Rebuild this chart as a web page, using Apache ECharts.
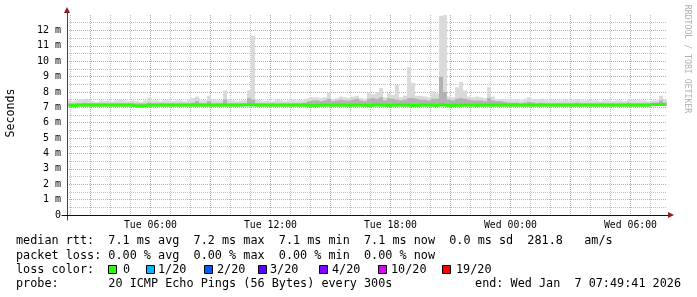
<!DOCTYPE html>
<html><head><meta charset="utf-8">
<script src="https://cdn.jsdelivr.net/npm/echarts@6/dist/echarts.min.js"></script>
<style>html,body{margin:0;padding:0;background:#fff}#c{width:697px;height:297px}</style>
</head><body><div id="c"></div>
<script>
// ---- data (seconds, shown in ms units "m") ----
// 150 buckets of 12 minutes, Tue 01:49:41 -> Wed 07:49:41
const startHour = 1 + 49/60 + 41/3600;   // hours since Tue 00:00
const spanHours = 30;
const categories = [];
for (let i = 0; i < 150; i++) {
  const h = startHour + i * 0.2;
  const hh = Math.floor(h) % 24, mm = Math.floor((h - Math.floor(h)) * 60);
  categories.push((h < 24 ? 'Tue ' : 'Wed ') + String(hh).padStart(2,'0') + ':' + String(mm).padStart(2,'0'));
}

const smokeLo = [
 7.05,7.02,7.05,7.05,7.05,7.05,7.05,7.05,7.05,7.05,
 7.05,7.05,7.05,7.05,7.05,7.05,7.05,7.00,7.00,7.00,
 7.05,7.05,7.05,7.05,7.05,7.05,7.05,7.05,7.05,7.05,
 7.05,7.05,7.05,7.05,7.05,7.05,7.05,7.05,7.05,7.05,
 7.05,7.05,7.05,7.05,7.07,7.07,7.07,7.05,7.05,7.05,
 7.05,7.05,7.05,7.05,7.05,7.05,7.05,7.05,7.05,7.05,
 7.03,7.03,7.03,7.05,7.05,7.05,7.05,7.05,7.05,7.05,
 7.03,7.05,7.05,7.05,7.05,7.02,7.05,7.07,7.05,7.05,
 7.02,7.05,7.05,7.05,7.05,7.05,7.02,7.02,7.05,7.05,
 7.05,7.05,7.02,7.08,7.05,7.02,7.05,7.03,7.05,7.05,
 7.05,7.05,7.03,7.05,7.05,7.05,7.05,7.05,7.05,7.05,
 7.05,7.05,7.05,7.05,7.05,7.05,7.05,7.05,7.05,7.05,
 7.05,7.05,7.05,7.05,7.05,7.05,7.05,7.05,7.05,7.05,
 7.05,7.05,7.05,7.05,7.05,7.05,7.05,7.05,7.05,7.05,
 7.05,7.05,7.05,7.05,7.05,7.05,7.09,7.09,7.09,7.09
];
const smokeHi = [
 7.50,7.40,7.45,7.50,7.55,7.50,7.40,7.35,7.45,7.40,
 7.45,7.40,7.45,7.50,7.45,7.40,7.45,7.40,7.35,7.45,
 7.60,7.45,7.45,7.40,7.45,7.45,7.40,7.45,7.45,7.40,
 7.50,7.60,7.70,7.45,7.45,7.75,7.50,7.45,7.45,8.10,
 7.50,7.45,7.40,7.45,7.45,8.10,11.65,7.50,7.45,7.40,
 7.45,7.40,7.50,7.45,7.40,7.45,7.50,7.45,7.45,7.55,
 7.60,7.65,7.65,7.60,7.65,7.95,7.55,7.60,7.70,7.65,
 7.60,7.70,7.75,7.60,7.55,7.95,7.85,8.00,8.25,7.65,
 7.90,7.80,8.45,7.65,7.75,9.60,8.60,7.75,7.75,7.70,
 7.65,8.05,7.90,12.95,13.00,7.70,7.65,8.30,8.65,8.10,
 7.70,7.65,7.70,7.65,7.60,8.30,7.70,7.55,7.55,7.50,
 7.55,7.50,7.50,7.45,7.55,7.65,7.55,7.50,7.55,7.50,
 7.45,7.50,7.45,7.45,7.50,7.45,7.50,7.55,7.45,7.45,
 7.50,7.45,7.45,7.40,7.45,7.45,7.40,7.45,7.45,7.40,
 7.55,7.50,7.45,7.45,7.45,7.40,7.45,7.45,7.75,7.50
];
const smokeCore = [
 7.25,7.25,7.25,7.25,7.30,7.25,7.25,7.25,7.25,7.25,
 7.25,7.25,7.25,7.25,7.25,7.25,7.25,7.25,7.25,7.25,
 7.30,7.25,7.25,7.25,7.25,7.25,7.25,7.25,7.25,7.25,
 7.25,7.30,7.40,7.25,7.25,7.40,7.25,7.25,7.25,7.50,
 7.25,7.25,7.25,7.25,7.25,7.60,7.50,7.25,7.25,7.25,
 7.25,7.25,7.25,7.25,7.25,7.25,7.25,7.25,7.25,7.30,
 7.40,7.45,7.45,7.40,7.45,7.55,7.40,7.45,7.50,7.45,
 7.45,7.50,7.55,7.45,7.40,7.55,7.60,7.55,7.65,7.45,
 7.60,7.55,7.50,7.45,7.50,7.60,7.60,7.55,7.50,7.50,
 7.45,7.55,7.55,9.00,8.00,7.50,7.45,7.55,7.60,7.55,
 7.50,7.45,7.45,7.45,7.40,7.60,7.45,7.40,7.40,7.35,
 7.30,7.30,7.30,7.25,7.30,7.35,7.30,7.25,7.30,7.25,
 7.25,7.25,7.25,7.25,7.25,7.25,7.25,7.30,7.25,7.25,
 7.25,7.25,7.25,7.25,7.25,7.25,7.25,7.25,7.25,7.25,
 7.30,7.25,7.25,7.25,7.25,7.25,7.30,7.30,7.45,7.30
];
const medianRtt = [
 7.15,7.10,7.15,7.15,7.15,7.15,7.15,7.15,7.15,7.15,
 7.15,7.15,7.15,7.15,7.15,7.15,7.15,7.08,7.08,7.08,
 7.15,7.15,7.15,7.15,7.15,7.15,7.15,7.15,7.15,7.15,
 7.15,7.15,7.15,7.15,7.15,7.15,7.15,7.15,7.15,7.15,
 7.15,7.15,7.15,7.15,7.17,7.17,7.17,7.15,7.15,7.15,
 7.15,7.15,7.15,7.15,7.15,7.15,7.15,7.15,7.15,7.15,
 7.13,7.13,7.13,7.15,7.15,7.15,7.15,7.15,7.15,7.15,
 7.13,7.15,7.15,7.15,7.15,7.12,7.15,7.17,7.15,7.15,
 7.12,7.15,7.15,7.15,7.15,7.15,7.12,7.12,7.15,7.15,
 7.15,7.15,7.12,7.18,7.15,7.12,7.15,7.13,7.15,7.15,
 7.15,7.15,7.13,7.15,7.15,7.15,7.15,7.15,7.15,7.15,
 7.15,7.15,7.15,7.15,7.15,7.15,7.15,7.15,7.15,7.15,
 7.15,7.15,7.15,7.15,7.15,7.15,7.15,7.15,7.15,7.15,
 7.15,7.15,7.15,7.15,7.15,7.15,7.15,7.15,7.15,7.15,
 7.15,7.15,7.15,7.15,7.15,7.15,7.19,7.19,7.19,7.19
];
const xTickHours = [6, 12, 18, 24, 30];
const xTickLabels = ['Tue 06:00', 'Tue 12:00', 'Tue 18:00', 'Wed 00:00', 'Wed 06:00'];
const yMax = 13;
const lossLabels = ['0', '1/20', '2/20', '3/20', '4/20', '10/20', '19/20'];
const lossColors = ['#26ff00', '#00b8ff', '#0059ff', '#5e00ff', '#7e00ff', '#dd00ff', '#ff0000'];
const legendRows = [
  'median rtt:  7.1 ms avg  7.2 ms max  7.1 ms min  7.1 ms now  0.0 ms sd  281.8   am/s',
  'packet loss: 0.00 % avg  0.00 % max  0.00 % min  0.00 % now',
  'loss color:',
  'probe:       20 ICMP Echo Pings (56 Bytes) every 300s'
];
const endText = 'end: Wed Jan  7 07:49:41 2026';

// ---- derived series ----
const smokeBand = smokeHi.map((v, i) => +(v - smokeLo[i]).toFixed(3));
const coreBand = smokeCore.map((v, i) => Math.max(0, +(v - smokeLo[i]).toFixed(3)));

const MONO = '"DejaVu Sans Mono", monospace';
const GRID_MINOR = '#c0c0c0';
const GRID_MAJOR = '#eb9595';
const ARROW = '#8a1c1c';

const chart = echarts.init(document.getElementById('c'), null, {renderer: 'canvas'});

const hidden = {show: false};
const option = {
  animation: false,
  backgroundColor: '#ffffff',
  grid: [
    {left: 67, top: 15, width: 600, height: 200, containLabel: false, outerBoundsMode: 'none'},
    {left: 62, top: 15, width: 607, height: 200, containLabel: false, outerBoundsMode: 'none'},
    {left: 67, top: 12, width: 600, height: 208, containLabel: false, outerBoundsMode: 'none'}
  ],
  xAxis: [
    {gridIndex: 0, type: 'category', data: categories, position: 'top', show: false, boundaryGap: true},
    {gridIndex: 0, type: 'value', position: 'bottom', min: startHour, max: startHour + spanHours,
     splitNumber: 30, minInterval: 1, maxInterval: 1, z: 0,
     axisLine: hidden, axisTick: hidden, axisLabel: hidden,
     splitLine: {show: true, showMinLine: false, showMaxLine: false, lineStyle: {color: GRID_MINOR, width: 1, type: [1, 1]}}},
    {gridIndex: 0, type: 'value', position: 'bottom', min: startHour, max: startHour + spanHours,
     splitNumber: 10, minInterval: 3, maxInterval: 3, z: 1,
     axisLine: hidden, axisTick: hidden,
     splitLine: {show: true, showMinLine: false, showMaxLine: false, lineStyle: {color: GRID_MAJOR, width: 1, type: [1, 1]}},
     axisLabel: {show: true, margin: 5, color: '#000', fontFamily: MONO, fontSize: 9.8,
       showMinLabel: false, showMaxLabel: false, hideOverlap: false,
       formatter: function (v) {
         const h = Math.round(v);
         if (Math.abs(v - h) > 1e-6) return '';
         const k = xTickHours.indexOf(h);
         return k >= 0 ? xTickLabels[k] : '';
       }}},
    {gridIndex: 1, type: 'value', min: 0, max: 1, position: 'bottom', z: 3,
     axisLine: {show: true, lineStyle: {color: '#111', width: 1}},
     axisTick: hidden, axisLabel: hidden, splitLine: hidden},
    {gridIndex: 1, type: 'value', min: 0, max: 1, position: 'bottom', z: 4,
     axisLine: {show: true, symbol: ['none', 'triangle'], symbolSize: [6, 6], symbolOffset: [0, 2],
       lineStyle: {color: ARROW, width: 0}},
     axisTick: hidden, axisLabel: hidden, splitLine: hidden},
    {gridIndex: 2, type: 'value', show: false}
  ],
  yAxis: [
    {gridIndex: 0, type: 'value', position: 'left', min: 0, max: yMax, interval: 1, z: 1,
     axisLine: hidden, axisTick: hidden,
     axisLabel: {show: true, margin: 6, color: '#000', fontFamily: MONO, fontSize: 10,
       showMaxLabel: false,
       formatter: function (v) { return v === 0 ? '0' : v + ' m'; }},
     splitLine: {show: true, showMinLine: false, showMaxLine: false, lineStyle: {color: GRID_MAJOR, width: 1, type: [1, 1]}},
     minorTick: {show: false, splitNumber: 2},
     minorSplitLine: {show: true, lineStyle: {color: GRID_MINOR, width: 1, type: [1, 1]}}},
    {gridIndex: 1, type: 'value', position: 'left', show: false},
    {gridIndex: 2, type: 'value', position: 'left', min: 0, max: 1, z: 3,
     axisLine: {show: true, lineStyle: {color: '#444', width: 1}},
     axisTick: hidden, axisLabel: hidden, splitLine: hidden},
    {gridIndex: 2, type: 'value', position: 'left', min: 0, max: 1, z: 4,
     axisLine: {show: true, symbol: ['none', 'triangle'], symbolSize: [6, 6], symbolOffset: [0, 2],
       lineStyle: {color: ARROW, width: 0}},
     axisTick: hidden, axisLabel: hidden, splitLine: hidden}
  ],
  series: [
    {type: 'bar', name: 'smokeBase', xAxisIndex: 0, yAxisIndex: 0, stack: 'smoke', data: smokeLo,
     silent: true, itemStyle: {color: 'rgba(0,0,0,0)'}, barCategoryGap: '0%', barGap: '-100%'},
    {type: 'bar', name: 'smoke', xAxisIndex: 0, yAxisIndex: 0, stack: 'smoke', data: smokeBand,
     silent: true, itemStyle: {color: '#dadada'}, barCategoryGap: '0%', barGap: '-100%'},
    {type: 'bar', name: 'coreBase', xAxisIndex: 0, yAxisIndex: 0, stack: 'core', data: smokeLo,
     silent: true, itemStyle: {color: 'rgba(0,0,0,0)'}, barCategoryGap: '0%', barGap: '-100%'},
    {type: 'bar', name: 'core', xAxisIndex: 0, yAxisIndex: 0, stack: 'core', data: coreBand,
     silent: true, itemStyle: {color: '#b2b2b2'}, barCategoryGap: '0%', barGap: '-100%'},
    {type: 'line', name: 'median rtt', xAxisIndex: 0, yAxisIndex: 0, data: medianRtt,
     step: 'middle', showSymbol: false, symbol: 'none', silent: true,
     lineStyle: {color: lossColors[0], width: 3}, z: 5}
  ],
  graphic: []
};

const g = option.graphic;
const rowY = [241, 255.5, 269.5, 283.5];
legendRows.forEach((t, i) => {
  g.push({type: 'text', x: 16, y: rowY[i], silent: true,
    style: {text: t, font: '11.8px ' + MONO, fill: '#000', verticalAlign: 'middle', align: 'left'}});
});
g.push({type: 'text', x: 681, y: rowY[3], silent: true,
  style: {text: endText, font: '11.8px ' + MONO, fill: '#000', verticalAlign: 'middle', align: 'right'}});
const boxX = [108, 146, 204, 258, 319, 378, 442];
const lblX = [123, 158, 217, 270, 332, 391, 456];
lossLabels.forEach((t, i) => {
  g.push({type: 'rect', silent: true, shape: {x: boxX[i] + 0.5, y: 265.5, width: 8, height: 8},
    style: {fill: lossColors[i], stroke: '#000', lineWidth: 1}});
  g.push({type: 'text', x: lblX[i], y: rowY[2], silent: true,
    style: {text: t, font: '11.8px ' + MONO, fill: '#000', verticalAlign: 'middle', align: 'left'}});
});
g.push({type: 'text', x: 10.5, y: 113, rotation: Math.PI / 2, silent: true,
  style: {text: 'Seconds', font: '11.6px ' + MONO, fill: '#000', verticalAlign: 'middle', align: 'center'}});
g.push({type: 'text', x: 687, y: 59, rotation: -Math.PI / 2, silent: true,
  style: {text: 'RRDTOOL / TOBI OETIKER', font: '8.2px ' + MONO, fill: '#b0b0b0', verticalAlign: 'middle', align: 'center'}});

chart.setOption(option);
</script>
</body></html>
